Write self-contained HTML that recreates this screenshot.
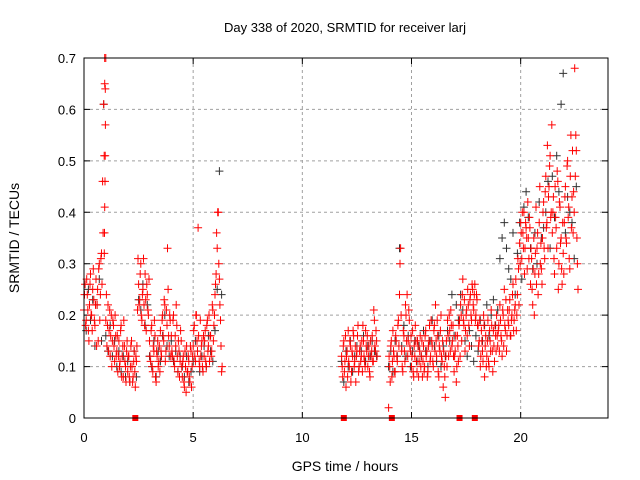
<!DOCTYPE html>
<html><head><meta charset="utf-8"><style>
body{margin:0;background:#fff}
svg{display:block;font-family:"Liberation Sans",sans-serif}
</style></head><body>
<svg id="chart" width="640" height="480" viewBox="0 0 640 480">
<rect width="640" height="480" fill="#fff"/>
<text x="345" y="32" font-size="13" text-anchor="middle">Day 338 of 2020, SRMTID for receiver larj</text>
<text x="19" y="238" font-size="14" text-anchor="middle" transform="rotate(-90 19 238)">SRMTID / TECUs</text>
<text x="345" y="471" font-size="14" text-anchor="middle">GPS time / hours</text>
<g id="grid"></g>
<g id="ticks"></g>
<g id="black"></g>
<g id="red"></g>
<rect x="84" y="58" width="524" height="360" fill="none" stroke="#000" stroke-width="1"/>
</svg>
<script>
const xTicks=[0,5,10,15,20];
const yTicks=[0,0.1,0.2,0.3,0.4,0.5,0.6,0.7];
const yTickLabels=["0","0.1","0.2","0.3","0.4","0.5","0.6","0.7"];
const segAStart=0, segAStep=0.05;
const redA1=[0.21,0.26,0.19,0.24,0.17,0.22,0.28,0.20,0.25,0.23,0.18,0.27,0.22,0.15,0.30,0.24,0.32,0.46,0.61,0.70,0.19,0.14,0.22,0.17,0.12,0.20,0.15,0.18,0.11,0.16,0.13,0.09,0.15,0.11,0.18,0.12,0.08,0.14,0.10,0.13,0.09,0.12,0.07,0.14,0.10,0.08,0.13,0.06,0.11,0.21,0.26,0.23,0.30,0.19,0.25,0.22,0.28,0.17,0.24,0.20,0.15,0.11,0.18,0.09,0.13,0.16,0.07,0.12,0.10,0.14,0.17,0.12,0.20,0.15,0.22,0.13,0.18,0.25,0.14,0.19,0.16,0.12,0.20,0.10,0.14,0.18,0.09,0.13,0.11,0.15,0.08,0.12,0.06,0.10,0.14,0.09,0.11,0.07,0.13,0.10,0.14,0.18,0.11,0.20,0.13,0.16,0.10,0.12,0.15,0.09,0.12,0.17,0.10,0.19,0.14,0.11,0.16,0.13,0.21,0.18,0.24,0.28,0.33,0.40,0.27,0.19,0.09];
const redA2=[0.24,0.18,0.27,0.21,0.15,0.26,0.20,0.17,0.29,0.19,0.22,0.14,0.25,0.29,0.19,0.31,0.26,0.36,0.51,0.64,0.24,0.18,0.13,0.21,0.16,0.10,0.19,0.14,0.20,0.12,0.16,0.12,0.10,0.17,0.08,0.14,0.19,0.11,0.07,0.15,0.12,0.08,0.10,0.15,0.07,0.11,0.09,0.12,0.14,0.31,0.22,0.28,0.20,0.24,0.31,0.18,0.23,0.26,0.21,0.27,0.12,0.17,0.10,0.14,0.19,0.08,0.13,0.15,0.11,0.09,0.13,0.19,0.16,0.23,0.11,0.21,0.33,0.16,0.20,0.12,0.13,0.19,0.11,0.16,0.22,0.12,0.15,0.08,0.17,0.10,0.11,0.07,0.13,0.05,0.09,0.12,0.08,0.14,0.06,0.12,0.17,0.12,0.20,0.15,0.37,0.11,0.19,0.14,0.10,0.16,0.15,0.11,0.18,0.13,0.20,0.16,0.12,0.22,0.15,0.20,0.26,0.36,0.40,0.30,0.22,0.14,0.10];
const blackAStep=0.1;
const blackA=[0.21,0.17,0.25,0.19,0.23,0.14,0.22,0.27,0.15,0.61,0.16,0.13,0.18,0.12,0.15,0.10,0.13,0.09,0.12,0.08,0.11,0.07,0.10,0.13,0.08,0.23,0.21,0.26,0.18,0.22,0.12,0.10,0.15,0.08,0.13,0.11,0.16,0.20,0.14,0.12,0.15,0.11,0.13,0.09,0.12,0.10,0.08,0.12,0.07,0.09,0.11,0.15,0.13,0.09,0.12,0.14,0.10,0.16,0.13,0.11,0.17,0.25,0.48,0.24];
const spikeTimes=[0.93,0.94,0.95,0.96,0.97,0.98,0.95,1.0];
const spikeVals=[0.32,0.36,0.41,0.46,0.51,0.57,0.65,0.70];
const segB1Start=11.8, segB1Step=0.05;
const redB1a=[0.12,0.08,0.15,0.11,0.06,0.13,0.17,0.10,0.14,0.09,0.12,0.16,0.11,0.07,0.13,0.18,0.10,0.14,0.12,0.09,0.15,0.11,0.17,0.13,0.10,0.14,0.08,0.12,0.16,0.11,0.19,0.13,0.15];
const redB1b=[0.10,0.14,0.09,0.16,0.12,0.08,0.11,0.15,0.07,0.13,0.17,0.10,0.14,0.12,0.16,0.09,0.13,0.11,0.15,0.18,0.12,0.10,0.14,0.16,0.12,0.09,0.15,0.13,0.11,0.21,0.14,0.17,0.12];
const blackB1=[0.11,0.07,0.13,0.10,0.15,0.09,0.12,0.14,0.10,0.13,0.16,0.11,0.14,0.12,0.15,0.13,0.12];
const segB2Start=13.95, segB2Step=0.05;
const redB2a=[0.02,0.10,0.14,0.08,0.17,0.12,0.09,0.15,0.11,0.19,0.24,0.33,0.13,0.09,0.16,0.11,0.20,0.24,0.15,0.19,0.13,0.10,0.17,0.08,0.12,0.15,0.09,0.14,0.11,0.16,0.12,0.08,0.14,0.10,0.17,0.13,0.09,0.15,0.11,0.19,0.14,0.10,0.18,0.22,0.12,0.16,0.08,0.13,0.20,0.11,0.06,0.10,0.04,0.15,0.19,0.12,0.17,0.21,0.14,0.18,0.09,0.13,0.07,0.16,0.11,0.19,0.22,0.15,0.27,0.18,0.13,0.20,0.16,0.22,0.14,0.24,0.19,0.25,0.21,0.26,0.20,0.23,0.18,0.15,0.10,0.17,0.13,0.20,0.08,0.16,0.12,0.19,0.10,0.15,0.21,0.13,0.17,0.11,0.16,0.20,0.14,0.18,0.22,0.16,0.12,0.20,0.25,0.17,0.13,0.21,0.18,0.23,0.16,0.20,0.26,0.19,0.22,0.17,0.24,0.29,0.34,0.38,0.31,0.36,0.40,0.33,0.37,0.29,0.35,0.39,0.26,0.31,0.22,0.35,0.28,0.41,0.33,0.24,0.38,0.30,0.29,0.35,0.42,0.31,0.47,0.38,0.33,0.45,0.51,0.40,0.36,0.43,0.28,0.39,0.33,0.46,0.30,0.41,0.35,0.26,0.32,0.38,0.45,0.34,0.50,0.41,0.29,0.55,0.43,0.36,0.40,0.47,0.52,0.30];
const redB2b=[0.12,0.07,0.15,0.11,0.13,0.09,0.16,0.12,0.18,0.14,0.30,0.20,0.10,0.17,0.13,0.22,0.15,0.12,0.21,0.14,0.16,0.12,0.09,0.14,0.18,0.11,0.15,0.08,0.13,0.10,0.15,0.11,0.09,0.16,0.12,0.08,0.14,0.18,0.12,0.15,0.11,0.17,0.13,0.15,0.19,0.09,0.14,0.17,0.12,0.15,0.13,0.08,0.12,0.10,0.16,0.20,0.13,0.18,0.15,0.12,0.12,0.16,0.10,0.14,0.18,0.12,0.20,0.24,0.19,0.23,0.17,0.21,0.25,0.18,0.23,0.20,0.26,0.22,0.24,0.19,0.24,0.18,0.14,0.19,0.12,0.15,0.11,0.18,0.14,0.10,0.15,0.11,0.17,0.13,0.18,0.09,0.14,0.18,0.13,0.16,0.17,0.13,0.19,0.15,0.21,0.14,0.18,0.23,0.16,0.19,0.21,0.16,0.19,0.24,0.17,0.21,0.27,0.20,0.31,0.22,0.30,0.36,0.40,0.33,0.28,0.38,0.35,0.42,0.31,0.37,0.33,0.25,0.29,0.20,0.32,0.26,0.36,0.28,0.45,0.34,0.26,0.40,0.33,0.44,0.37,0.53,0.43,0.49,0.39,0.57,0.40,0.31,0.45,0.37,0.48,0.25,0.42,0.34,0.29,0.38,0.28,0.43,0.35,0.49,0.39,0.31,0.47,0.37,0.52,0.44,0.68,0.55,0.35,0.25];
const blackB2=[0.10,0.13,0.09,0.15,0.12,0.33,0.14,0.18,0.12,0.16,0.10,0.13,0.15,0.11,0.14,0.12,0.17,0.13,0.10,0.15,0.19,0.14,0.11,0.16,0.10,0.14,0.12,0.17,0.15,0.24,0.16,0.22,0.19,0.24,0.21,0.15,0.12,0.17,0.14,0.11,0.16,0.13,0.19,0.15,0.18,0.22,0.16,0.20,0.23,0.18,0.21,0.31,0.35,0.38,0.33,0.29,0.27,0.36,0.24,0.32,0.38,0.27,0.41,0.44,0.39,0.33,0.29,0.36,0.30,0.42,0.35,0.37,0.40,0.46,0.33,0.47,0.39,0.51,0.44,0.61,0.67,0.36,0.43,0.40,0.38,0.31,0.45];
const gapTimes=[2.35,11.9,14.1,17.2,17.9];

const X0=84,X1=608,Y0=418,Y1=58;
const xS=t=>X0+t/24*(X1-X0);
const yS=v=>Y0-v/0.7*(Y0-Y1);
const NS='http://www.w3.org/2000/svg';
function mk(tag,parent){const e=document.createElementNS(NS,tag);parent.appendChild(e);return e;}
const grid=document.getElementById('grid'),ticks=document.getElementById('ticks');
xTicks.forEach(t=>{
  const x=xS(t);
  if(t>0){const l=mk('line',grid);
    
    
    l.setAttribute('x1',x);l.setAttribute('x2',x);l.setAttribute('y1',Y1);l.setAttribute('y2',Y0);
    l.setAttribute('stroke','#a0a0a0');l.setAttribute('stroke-dasharray','3,3');}
  const tk=mk('path',ticks);
  
  
  tk.setAttribute('d',`M${x},${Y0}v-6M${x},${Y1}v6`);tk.setAttribute('stroke','#000');
  const tx=mk('text',ticks);
  
  
  tx.setAttribute('x',x);tx.setAttribute('y',Y0+24);tx.setAttribute('font-size','13');tx.setAttribute('text-anchor','middle');
  tx.textContent=t;
});
yTicks.forEach((v,i)=>{
  const y=yS(v);
  if(i>0&&i<yTicks.length-1){const l=mk('line',grid);
    
    
    l.setAttribute('x1',X0);l.setAttribute('x2',X1);l.setAttribute('y1',y);l.setAttribute('y2',y);
    l.setAttribute('stroke','#a0a0a0');l.setAttribute('stroke-dasharray','3,3');}
  const tk=mk('path',ticks);
  
  
  tk.setAttribute('d',`M${X0},${y}h6M${X1},${y}h-6`);tk.setAttribute('stroke','#000');
  const tx=mk('text',ticks);
  
  
  tx.setAttribute('x',X0-8);tx.setAttribute('y',y+5);tx.setAttribute('font-size','13');tx.setAttribute('text-anchor','end');
  tx.textContent=yTickLabels[i];
});
function plusPath(ts,vs){let d='';for(let i=0;i<vs.length;i++){const x=xS(ts[i]),y=yS(vs[i]);d+=`M${(x-4).toFixed(1)},${y.toFixed(1)}h8M${x.toFixed(1)},${(y-4).toFixed(1)}v8`;}return d;}
function grid_t(start,step,n){const a=[];for(let i=0;i<n;i++)a.push(start+i*step);return a;}
function series(group,name,color,ts,vs){
  const p=mk('path',group);
  
  
  p.setAttribute('d',plusPath(ts,vs));p.setAttribute('stroke',color);p.setAttribute('stroke-width','1');p.setAttribute('fill','none');
}
const bg=document.getElementById('black'),rg=document.getElementById('red');
series(bg,'black-points-a','#333',grid_t(segAStart,blackAStep,blackA.length),blackA);
series(bg,'black-points-b1','#333',grid_t(segB1Start,0.1,blackB1.length),blackB1);
series(bg,'black-points-b2','#333',grid_t(segB2Start,0.1,blackB2.length),blackB2);
series(rg,'red-points-a1','#f00',grid_t(segAStart,segAStep,redA1.length),redA1);
series(rg,'red-points-a2','#f00',grid_t(segAStart+0.025,segAStep,redA2.length),redA2);
series(rg,'red-spike-points','#f00',spikeTimes,spikeVals);
series(rg,'red-points-b1a','#f00',grid_t(segB1Start,segB1Step,redB1a.length),redB1a);
series(rg,'red-points-b1b','#f00',grid_t(segB1Start+0.025,segB1Step,redB1b.length),redB1b);
series(rg,'red-points-b2a','#f00',grid_t(segB2Start,segB2Step,redB2a.length),redB2a);
series(rg,'red-points-b2b','#f00',grid_t(segB2Start+0.025,segB2Step,redB2b.length),redB2b);
gapTimes.forEach(t=>{
  const r=mk('rect',rg);
  
  
  r.setAttribute('x',xS(t)-3);r.setAttribute('y',Y0-3);r.setAttribute('width',6);r.setAttribute('height',6);r.setAttribute('fill','#f00');
});
</script>
</body></html>
